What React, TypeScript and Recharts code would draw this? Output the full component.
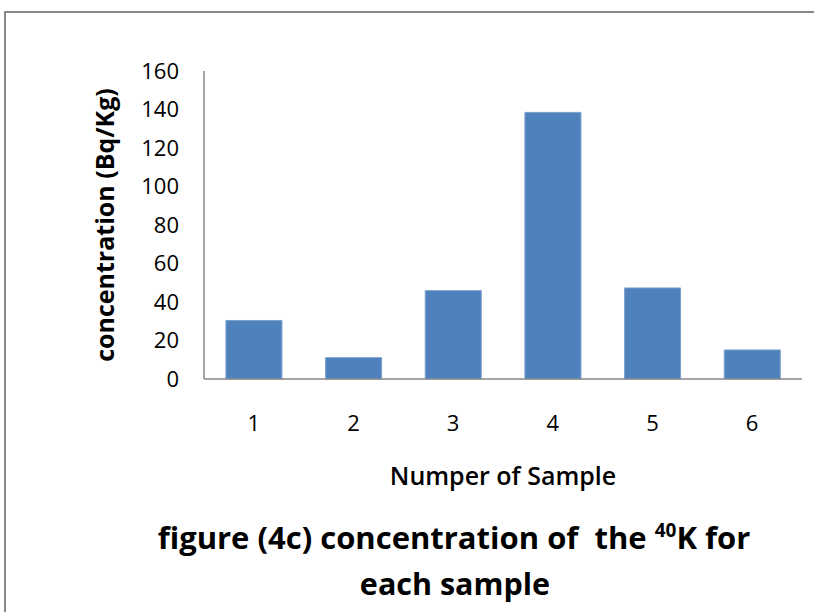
import React from 'react';
import { BarChart, Bar, XAxis, YAxis } from 'recharts';

const categories = ['1', '2', '3', '4', '5', '6'];
const concentration = [30.4, 11.1, 45.9, 138.5, 47.3, 15.1];
const yTicks = [0, 20, 40, 60, 80, 100, 120, 140, 160];

const data = categories.map((c, i) => ({ sample: c, value: concentration[i] }));

const FONT = '"Open Sans", sans-serif';

const XTitle = (props: any) => {
  const vb = props.viewBox || {};
  return (
    <text x={vb.x + vb.width / 2} y={vb.y + 106} textAnchor="middle" fontFamily={FONT} fontSize={25} fontWeight={600} fill="#000">
      Numper of Sample
    </text>
  );
};

const YTitle = (props: any) => {
  const vb = props.viewBox || {};
  const cx = 114;
  const cy = vb.y + vb.height / 2;
  return (
    <text x={cx} y={cy} transform={`rotate(-90 ${cx} ${cy})`} textAnchor="middle" fontFamily={FONT} fontSize={25} fontWeight={700} fill="#000">
      concentration (Bq/Kg)
    </text>
  );
};

export default function App() {
  return (
    <div style={{ position: 'absolute', left: 0, top: 0, width: 814, height: 612, background: '#fff', overflow: 'hidden' }}>
      <div style={{ position: 'absolute', left: 4, top: 11, width: 820, height: 2, background: '#888' }} />
      <div style={{ position: 'absolute', left: 4, top: 11, width: 2, height: 620, background: '#888' }} />
      <div style={{ position: 'absolute', left: 0, top: 0 }}>
        <BarChart width={814} height={612} data={data} margin={{ top: 71, right: 12, bottom: 113, left: 4 }} barCategoryGap="22%">
          <XAxis
            dataKey="sample"
            tickLine={false}
            tickSize={0}
            tickMargin={36}
            height={120}
            axisLine={{ stroke: '#888', strokeWidth: 1.5 }}
            tick={{ fontFamily: FONT, fontSize: 22, fill: '#000' }}
            label={{ content: XTitle }}
          />
          <YAxis
            width={200}
            domain={[0, 160]}
            ticks={yTicks}
            interval={0}
            tickLine={false}
            tickSize={0}
            tickMargin={25}
            axisLine={{ stroke: '#888', strokeWidth: 1.5 }}
            tick={{ fontFamily: FONT, fontSize: 22, fill: '#000' }}
            label={{ content: YTitle }}
          />
          <Bar dataKey="value" fill="#4F81BD" stroke="#7BA0CF" strokeWidth={1} isAnimationActive={false} />
        </BarChart>
      </div>
      <svg width={814} height={612} style={{ position: 'absolute', left: 0, top: 0, pointerEvents: 'none' }}>
        <text x={454} y={549} textAnchor="middle" fontFamily={FONT} fontSize={31} fontWeight={700} fill="#000" style={{ whiteSpace: 'pre' }}>
          figure (4c) concentration of  the <tspan fontSize={19} dy={-12}>40</tspan><tspan dy={12}>K for</tspan>
        </text>
        <text x={455} y={595} textAnchor="middle" fontFamily={FONT} fontSize={30.5} fontWeight={700} fill="#000">
          each sample
        </text>
      </svg>
    </div>
  );
}
